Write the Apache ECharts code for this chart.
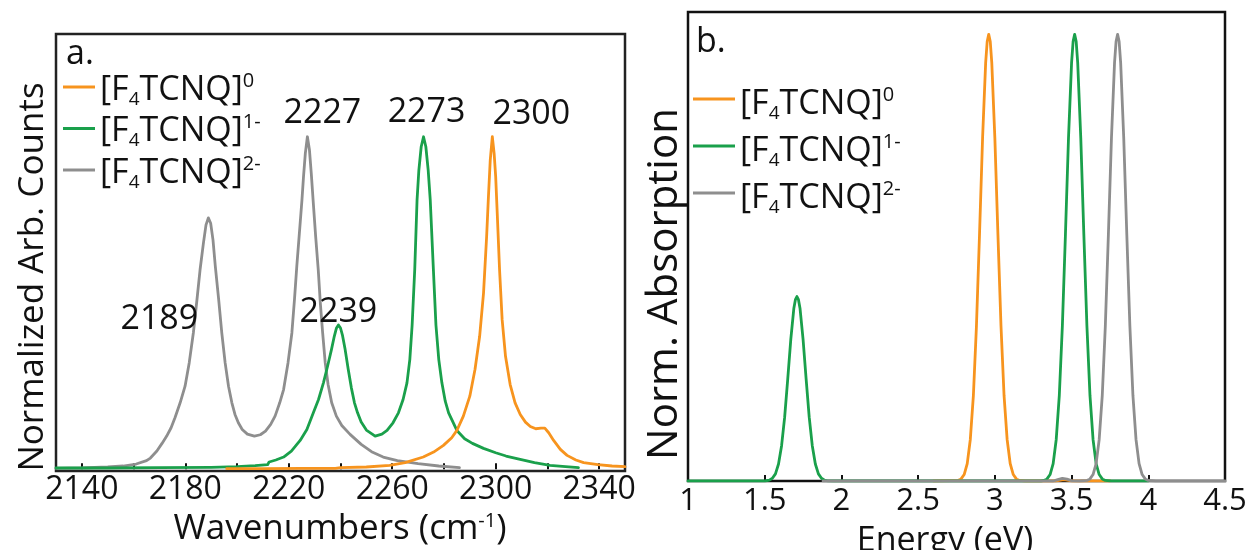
<!DOCTYPE html>
<html><head><meta charset="utf-8">
<script src="https://cdn.jsdelivr.net/npm/echarts@6/dist/echarts.min.js"></script>
<style>html,body{margin:0;padding:0;background:#fff}#c{width:1252px;height:550px}</style>
</head><body><div id="c"></div>
<script>
// ---------- data: panel a (IR, wavenumbers cm-1 -> normalized counts) ----------
const seriesNames = ['neutral', 'anion', 'dianion'];
const irNeutral = [[2196,0.002],[2210,0.002],[2225,0.003],[2238,0.003],[2240,0.005],[2250,0.007],[2259,0.012],[2265,0.02],[2272,0.037],[2276,0.052],[2279.8,0.072],[2283,0.095],[2285,0.117],[2287.5,0.16],[2290,0.22],[2292,0.3],[2293.8,0.4],[2295.3,0.53],[2296.5,0.7],[2297.2,0.82],[2297.9,0.93],[2298.7,1.0],[2299.4,0.95],[2300,0.88],[2300.6,0.77],[2301.5,0.6],[2302.5,0.45],[2303.8,0.34],[2305.6,0.255],[2307.5,0.2],[2309.5,0.165],[2311.5,0.142],[2313.4,0.129],[2315.5,0.122],[2317.5,0.124],[2319,0.124],[2320.5,0.11],[2322.4,0.087],[2325,0.06],[2327.6,0.042],[2331,0.028],[2334,0.02],[2339.5,0.014],[2345,0.01],[2350,0.008]];
const irAnion = [[2130,0.004],[2150,0.004],[2170,0.005],[2190,0.006],[2200,0.008],[2207,0.011],[2211.8,0.014],[2212.4,0.022],[2215,0.028],[2218,0.037],[2221,0.055],[2224.4,0.087],[2227,0.12],[2229.5,0.17],[2231.5,0.21],[2233.4,0.26],[2235,0.31],[2236.5,0.36],[2237.6,0.4],[2238.4,0.424],[2239.2,0.434],[2240,0.425],[2240.8,0.402],[2241.8,0.36],[2243,0.3],[2244.2,0.245],[2245.4,0.2],[2246.6,0.17],[2248,0.142],[2250,0.118],[2253.4,0.1],[2256,0.106],[2258,0.117],[2260.3,0.14],[2262.4,0.17],[2264.2,0.21],[2265.7,0.26],[2266.8,0.33],[2267.7,0.434],[2268.7,0.6],[2269.6,0.81],[2270.3,0.9],[2271.2,0.97],[2272.1,1.0],[2273,0.97],[2273.9,0.9],[2274.7,0.81],[2275.8,0.62],[2276.9,0.434],[2278,0.33],[2279.2,0.26],[2280.5,0.205],[2281.8,0.17],[2285,0.117],[2288,0.092],[2291,0.078],[2295.3,0.063],[2300,0.05],[2304,0.04],[2308.2,0.032],[2315,0.02],[2321,0.012],[2327,0.008],[2332,0.005]];
const irDianion = [[2130,0.003],[2140,0.004],[2150,0.007],[2156,0.010],[2161,0.016],[2165,0.026],[2166.5,0.034],[2169,0.055],[2171,0.078],[2172.8,0.1],[2174.5,0.125],[2176,0.155],[2178,0.2],[2179.9,0.25],[2181.5,0.32],[2183.1,0.41],[2184.5,0.51],[2185.7,0.6],[2187,0.68],[2188,0.735],[2188.9,0.756],[2189.8,0.74],[2190.7,0.69],[2191.6,0.61],[2192.9,0.51],[2194.1,0.41],[2195.4,0.32],[2196.7,0.25],[2198,0.2],[2199.2,0.165],[2200.5,0.14],[2202,0.12],[2204,0.106],[2206.7,0.1],[2209,0.104],[2211,0.115],[2213,0.135],[2214.7,0.16],[2216.5,0.2],[2218,0.24],[2219.7,0.32],[2221.2,0.41],[2222.2,0.51],[2223.1,0.61],[2224.2,0.72],[2225.1,0.81],[2225.7,0.88],[2226.4,0.95],[2227.2,1.0],[2228,0.96],[2228.7,0.89],[2229.4,0.81],[2230.4,0.7],[2231.4,0.6],[2232.2,0.5],[2233.1,0.41],[2234.1,0.32],[2235.2,0.255],[2236.6,0.2],[2238.4,0.16],[2240.5,0.132],[2243.7,0.105],[2248,0.075],[2252,0.053],[2256.5,0.037],[2262,0.026],[2270,0.017],[2278,0.01],[2286,0.005]];
const irPeakLabels = ['2189', '2227', '2239', '2273', '2300'];
const irPeakX = [2188.9, 2227.2, 2239.2, 2272.1, 2298.7];
const irPeakY = [0.756, 1.0, 0.434, 1.0, 1.0];
const irPeakSeries = ['dianion', 'dianion', 'anion', 'anion', 'neutral'];
const wnTickValues = [2140,2160,2180,2200,2220,2240,2260,2280,2300,2320,2340];
const wnLabelValues = [2140,2180,2220,2260,2300,2340];

// ---------- data: panel b (absorption, energy eV -> normalized absorption) ----------
const uvNeutral = [[2.6,0],[2.76,0.0013],[2.78,0.0047],[2.80,0.0145],[2.82,0.039],[2.84,0.093],[2.86,0.191],[2.88,0.347],[2.90,0.552],[2.92,0.768],[2.94,0.936],[2.95,0.984],[2.96,1],[2.97,0.984],[2.98,0.936],[3.00,0.768],[3.02,0.552],[3.04,0.347],[3.06,0.191],[3.08,0.093],[3.10,0.039],[3.12,0.0145],[3.14,0.0047],[3.16,0.0013],[3.2,0],[3.4,0],[3.43,0.002],[3.45,0.003],[3.47,0.002],[3.5,0],[3.75,0]];
const uvAnion = [[1,0],[1.5,0],[1.51,0.0005],[1.53,0.0019],[1.55,0.006],[1.57,0.016],[1.59,0.038],[1.61,0.079],[1.63,0.143],[1.65,0.228],[1.67,0.317],[1.69,0.387],[1.70,0.406],[1.71,0.413],[1.72,0.406],[1.73,0.387],[1.75,0.317],[1.77,0.228],[1.79,0.143],[1.81,0.079],[1.83,0.038],[1.85,0.016],[1.87,0.006],[1.89,0.0019],[1.91,0.0005],[1.95,0],[3.3,0],[3.32,0.0013],[3.34,0.0047],[3.36,0.0145],[3.38,0.039],[3.40,0.093],[3.42,0.191],[3.44,0.347],[3.46,0.552],[3.48,0.768],[3.50,0.936],[3.51,0.984],[3.52,1],[3.53,0.984],[3.54,0.936],[3.56,0.768],[3.58,0.552],[3.60,0.347],[3.62,0.191],[3.64,0.093],[3.66,0.039],[3.68,0.0145],[3.70,0.0047],[3.72,0.0013],[3.76,0],[4.0,0]];
const uvDianion = [[1.88,0],[3.38,0],[3.41,0.003],[3.44,0.006],[3.47,0.004],[3.5,0.001],[3.55,0],[3.60,0.0013],[3.62,0.0047],[3.64,0.0145],[3.66,0.039],[3.68,0.093],[3.70,0.191],[3.72,0.347],[3.74,0.552],[3.76,0.768],[3.78,0.936],[3.79,0.984],[3.80,1],[3.81,0.984],[3.82,0.936],[3.84,0.768],[3.86,0.552],[3.88,0.347],[3.90,0.191],[3.92,0.093],[3.94,0.039],[3.96,0.0145],[3.98,0.0047],[4.00,0.0013],[4.05,0],[4.5,0]];

// ---------- styling ----------
const FONT = "'Open Sans', 'Noto Sans', sans-serif";
const colors = { neutral: '#F7941E', anion: '#1AA04B', dianion: '#8E8E8E' };
const legendRich = { neutral: '{b|[F}{s|4}{b|TCNQ]}{p|0}', anion: '{b|[F}{s|4}{b|TCNQ]}{p|1-}', dianion: '{b|[F}{s|4}{b|TCNQ]}{p|2-}' };

const chart = echarts.init(document.getElementById('c'), null, { renderer: 'canvas' });

const labelOffsets = { '2189': [-49, 101], '2227': [15, -23], '2239': [0, -13], '2273': [3, -24], '2300': [39, -22] };

function markFor(name) {
  const data = [];
  irPeakLabels.forEach((lab, i) => {
    if (irPeakSeries[i] === name) {
      data.push({ name: lab, coord: [irPeakX[i], irPeakY[i]], label: { offset: labelOffsets[lab] } });
    }
  });
  return {
    symbol: 'circle', symbolSize: 1, itemStyle: { color: 'rgba(0,0,0,0)' }, silent: true,
    label: { show: true, position: 'inside', formatter: '{b}', color: '#111', fontSize: 34, fontFamily: FONT },
    data: data
  };
}

function lineSeries(name, data, xi, z, withMarks) {
  const s = {
    name: name, type: 'line', xAxisIndex: xi, yAxisIndex: xi, data: data,
    showSymbol: false, symbol: 'none', smooth: false, z: z, silent: true,
    lineStyle: { color: colors[name], width: 2.8, join: 'round', cap: 'round' }, itemStyle: { color: colors[name] }
  };
  if (withMarks) s.markPoint = markFor(name);
  return s;
}

const richBase = { fontFamily: FONT, color: '#111' };
const option = {
  animation: false,
  backgroundColor: '#fff',
  textStyle: { fontFamily: FONT },
  grid: [
    { left: 56, top: 34, width: 569, height: 437, show: true, borderColor: '#222', borderWidth: 2.5, backgroundColor: 'transparent' },
    { left: 688, top: 12, width: 537, height: 469, show: true, borderColor: '#111', borderWidth: 2.5, backgroundColor: 'transparent' }
  ],
  xAxis: [
    { type: 'value', gridIndex: 0, min: 2130, max: 2350,
      axisLine: { show: false }, splitLine: { show: false },
      axisTick: { show: true, inside: true, length: 6, lineStyle: { color: '#111', width: 2 }, customValues: wnTickValues },
      axisLabel: { customValues: wnLabelValues, formatter: v => String(v), color: '#111', fontSize: 32, fontFamily: FONT, margin: 3 } },
    { type: 'value', gridIndex: 1, min: 1, max: 4.5, interval: 0.5,
      axisLine: { show: false }, splitLine: { show: false },
      axisTick: { show: true, inside: true, length: 6, lineStyle: { color: '#111', width: 2 } },
      axisLabel: { formatter: v => String(v), color: '#111', fontSize: 31, fontFamily: FONT, margin: 5 } }
  ],
  yAxis: [
    { type: 'value', gridIndex: 0, min: -0.005, max: 1.309, show: true,
      axisLine: { show: false }, axisTick: { show: false }, axisLabel: { show: false }, splitLine: { show: false } },
    { type: 'value', gridIndex: 1, min: 0, max: 1.05, show: true,
      axisLine: { show: false }, axisTick: { show: false }, axisLabel: { show: false }, splitLine: { show: false } }
  ],
  legend: [
    { data: seriesNames, orient: 'vertical', left: 63, top: 71, padding: 0, itemGap: 3.5,
      icon: 'rect', itemWidth: 32, itemHeight: 3, selectedMode: false,
      formatter: n => legendRich[n],
      textStyle: { fontFamily: FONT, fontSize: 34, color: '#111', padding: [6, 0, 0, 0],
        rich: {
          b: Object.assign({ fontSize: 34, lineHeight: 38 }, richBase),
          s: Object.assign({ fontSize: 19, lineHeight: 30, verticalAlign: 'bottom' }, richBase),
          p: Object.assign({ fontSize: 20, lineHeight: 24, verticalAlign: 'top' }, richBase)
        } } },
    { data: seriesNames, orient: 'vertical', left: 693, top: 85, padding: 0, itemGap: 9,
      icon: 'rect', itemWidth: 42, itemHeight: 3, selectedMode: false,
      formatter: n => legendRich[n],
      textStyle: { fontFamily: FONT, fontSize: 34, color: '#111', padding: [10, 0, 0, 0],
        rich: {
          b: Object.assign({ fontSize: 34, lineHeight: 38 }, richBase),
          s: Object.assign({ fontSize: 19, lineHeight: 23, verticalAlign: 'bottom' }, richBase),
          p: Object.assign({ fontSize: 20, lineHeight: 24, verticalAlign: 'top' }, richBase)
        } } }
  ],
  graphic: [
    { type: 'text', x: 66, y: 54, style: { text: 'a.', font: '34px ' + FONT, fill: '#111', verticalAlign: 'middle' } },
    { type: 'text', x: 696, y: 42, style: { text: 'b.', font: '34px ' + FONT, fill: '#111', verticalAlign: 'middle' } },
    { type: 'text', x: 33, y: 277, rotation: Math.PI / 2, style: { text: 'Normalized Arb. Counts', font: '35px ' + FONT, fill: '#111', align: 'center', verticalAlign: 'middle' } },
    { type: 'text', x: 340, y: 529, style: { text: 'Wavenumbers (cm{s|-1})', font: '35px ' + FONT, fill: '#111', align: 'center', verticalAlign: 'middle',
        rich: { s: { fontSize: 20, fontFamily: FONT, fill: '#111', verticalAlign: 'top', lineHeight: 30 } } } },
    { type: 'text', x: 665, y: 284, rotation: Math.PI / 2, style: { text: 'Norm. Absorption', font: '42px ' + FONT, fill: '#111', align: 'center', verticalAlign: 'middle' } },
    { type: 'text', x: 945, y: 541, style: { text: 'Energy (eV)', font: '34px ' + FONT, fill: '#111', align: 'center', verticalAlign: 'middle' } }
  ],
  series: [
    lineSeries('dianion', irDianion, 0, 2, true),
    lineSeries('anion', irAnion, 0, 3, true),
    lineSeries('neutral', irNeutral, 0, 4, true),
    lineSeries('neutral', uvNeutral, 1, 2, false),
    lineSeries('anion', uvAnion, 1, 3, false),
    lineSeries('dianion', uvDianion, 1, 4, false)
  ]
};
chart.setOption(option);
</script>
</body></html>
